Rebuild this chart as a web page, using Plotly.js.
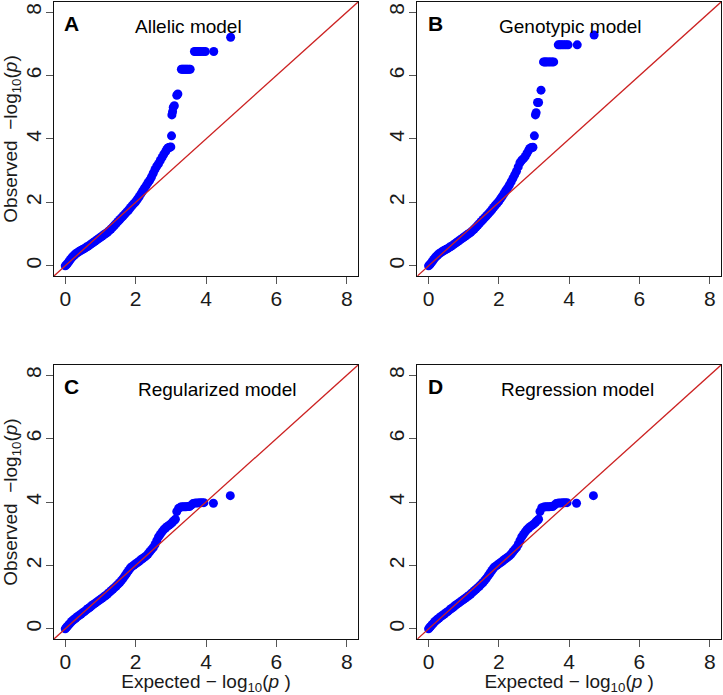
<!DOCTYPE html>
<html>
<head>
<meta charset="utf-8">
<script src="https://cdn.plot.ly/plotly-3.0.1.min.js"></script>
<style>html,body{margin:0;padding:0;background:#fff;}</style>
</head>
<body>
<div id="chart" style="width:723px;height:695px;"></div>
<script>
// ---- data ----
const panelLetters = ["A", "B", "C", "D"];
const panelTitles = ["Allelic model", "Genotypic model", "Regularized model", "Regression model"];
const tickValues = [0, 2, 4, 6, 8];
const axisRange = [-0.32, 8.32];

// Panel A: Allelic model
const expectedA = [0,0.03,0.06,0.1,0.14,0.18,0.22,0.26,0.3,0.35,0.4,0.45,0.5,0.55,0.6,0.65,0.7,0.75,0.8,0.85,0.9,0.95,1.0,1.05,1.1,1.15,1.2,1.25,1.3,1.35,1.4,1.45,1.5,1.55,1.6,1.65,1.7,1.75,1.8,1.85,1.9,1.95,2.0,2.05,2.1,2.15,2.2,2.25,2.3,2.35,2.4,2.45,2.5,2.55,2.6,2.65,2.7,2.75,2.8,2.85,2.88,2.91,2.94,2.97,3.0,3.02,3.03,3.05,3.07,3.10,3.17,3.20,3.30,3.33,3.36,3.39,3.42,3.45,3.48,3.52,3.55,3.67,3.71,3.75,3.80,3.85,3.92,3.98,4.22,4.70];
const observedA = [0,0.03,0.07,0.13,0.19,0.25,0.30,0.34,0.38,0.42,0.46,0.49,0.52,0.55,0.59,0.62,0.66,0.70,0.74,0.78,0.82,0.86,0.90,0.94,0.98,1.02,1.06,1.11,1.16,1.22,1.28,1.34,1.40,1.46,1.52,1.58,1.64,1.70,1.76,1.83,1.90,1.96,2.02,2.10,2.18,2.27,2.36,2.45,2.53,2.62,2.70,2.80,2.92,3.04,3.14,3.22,3.32,3.42,3.52,3.60,3.66,3.71,3.73,3.74,3.75,4.10,4.76,4.86,5.00,5.05,5.38,5.42,6.20,6.20,6.20,6.20,6.20,6.20,6.20,6.20,6.20,6.76,6.76,6.76,6.76,6.76,6.76,6.76,6.76,7.21];

// Panel B: Genotypic model
const expectedB = [0,0.03,0.06,0.1,0.14,0.18,0.22,0.26,0.3,0.35,0.4,0.45,0.5,0.55,0.6,0.65,0.7,0.75,0.8,0.85,0.9,0.95,1.0,1.05,1.1,1.15,1.2,1.25,1.3,1.35,1.4,1.45,1.5,1.55,1.6,1.65,1.7,1.75,1.8,1.85,1.9,1.95,2.0,2.05,2.1,2.15,2.2,2.25,2.3,2.35,2.4,2.45,2.5,2.55,2.6,2.65,2.7,2.75,2.8,2.85,2.88,2.91,2.94,2.97,3.01,3.04,3.06,3.10,3.13,3.20,3.27,3.30,3.33,3.36,3.40,3.44,3.48,3.52,3.56,3.69,3.73,3.77,3.82,3.87,3.92,3.97,4.23,4.71];
const observedB = [0,0.03,0.07,0.13,0.19,0.25,0.30,0.34,0.38,0.42,0.46,0.49,0.52,0.55,0.59,0.62,0.66,0.70,0.74,0.78,0.82,0.86,0.90,0.94,0.98,1.02,1.06,1.11,1.16,1.22,1.28,1.34,1.40,1.46,1.52,1.58,1.64,1.70,1.77,1.84,1.91,1.97,2.04,2.12,2.20,2.29,2.38,2.46,2.55,2.65,2.76,2.87,2.98,3.12,3.25,3.33,3.38,3.45,3.55,3.65,3.70,3.72,3.73,3.74,4.10,4.76,4.83,5.15,5.15,5.54,6.43,6.43,6.43,6.43,6.43,6.43,6.43,6.43,6.43,6.97,6.97,6.97,6.97,6.97,6.97,6.97,6.97,7.28];

// Panel C: Regularized model
const expectedC = [0,0.03,0.06,0.1,0.14,0.18,0.22,0.26,0.3,0.35,0.4,0.45,0.5,0.55,0.6,0.65,0.7,0.75,0.8,0.85,0.9,0.95,1.0,1.05,1.1,1.15,1.2,1.25,1.3,1.35,1.4,1.45,1.5,1.55,1.6,1.65,1.7,1.75,1.8,1.85,1.9,1.95,2.0,2.05,2.1,2.15,2.2,2.25,2.3,2.35,2.4,2.45,2.5,2.55,2.6,2.65,2.7,2.75,2.8,2.85,2.9,2.95,3.0,3.05,3.1,3.13,3.17,3.22,3.28,3.33,3.38,3.43,3.48,3.53,3.58,3.63,3.70,3.76,3.82,3.88,3.94,4.21,4.69];
const observedC = [0,0.04,0.08,0.13,0.18,0.23,0.27,0.31,0.34,0.39,0.43,0.47,0.51,0.55,0.60,0.64,0.68,0.73,0.77,0.81,0.85,0.89,0.93,0.97,1.01,1.05,1.10,1.15,1.20,1.25,1.30,1.35,1.41,1.46,1.53,1.60,1.68,1.76,1.84,1.92,1.97,2.01,2.05,2.09,2.13,2.18,2.22,2.26,2.30,2.36,2.43,2.50,2.56,2.66,2.78,2.90,2.98,3.06,3.13,3.18,3.23,3.27,3.31,3.37,3.42,3.46,3.70,3.80,3.84,3.85,3.85,3.85,3.86,3.86,3.90,3.95,3.97,3.97,3.98,3.98,3.98,3.96,4.20];

// Panel D: Regression model
const expectedD = [0,0.03,0.06,0.1,0.14,0.18,0.22,0.26,0.3,0.35,0.4,0.45,0.5,0.55,0.6,0.65,0.7,0.75,0.8,0.85,0.9,0.95,1.0,1.05,1.1,1.15,1.2,1.25,1.3,1.35,1.4,1.45,1.5,1.55,1.6,1.65,1.7,1.75,1.8,1.85,1.9,1.95,2.0,2.05,2.1,2.15,2.2,2.25,2.3,2.35,2.4,2.45,2.5,2.55,2.6,2.65,2.7,2.75,2.8,2.85,2.9,2.95,3.0,3.05,3.1,3.13,3.17,3.22,3.28,3.33,3.38,3.43,3.48,3.53,3.58,3.63,3.70,3.76,3.82,3.88,3.94,4.21,4.69];
const observedD = [0,0.04,0.08,0.13,0.18,0.23,0.27,0.31,0.34,0.39,0.43,0.47,0.51,0.55,0.60,0.64,0.68,0.73,0.77,0.81,0.85,0.89,0.93,0.97,1.01,1.05,1.10,1.15,1.20,1.25,1.30,1.35,1.41,1.46,1.53,1.60,1.68,1.76,1.84,1.92,1.97,2.01,2.05,2.09,2.13,2.18,2.22,2.26,2.30,2.36,2.43,2.50,2.56,2.66,2.78,2.90,2.98,3.06,3.13,3.18,3.23,3.27,3.31,3.37,3.42,3.46,3.70,3.82,3.84,3.85,3.85,3.85,3.86,3.86,3.90,3.95,3.97,3.97,3.98,3.98,3.98,3.96,4.20];

const expectedAll = [expectedA, expectedB, expectedC, expectedD];
const observedAll = [observedA, observedB, observedC, observedD];

// ---- build ----
const FONT = "Liberation Sans, Arial, Helvetica, sans-serif";
const suffix = ["", "2", "3", "4"];
const traces = [];
for (let i = 0; i < 4; i++) {
  traces.push({
    type: "scatter", mode: "markers",
    x: expectedAll[i], y: observedAll[i],
    xaxis: "x" + suffix[i], yaxis: "y" + suffix[i],
    marker: {color: "#0000FF", size: 9, line: {width: 0}},
    hoverinfo: "skip", showlegend: false
  });
}
for (let i = 0; i < 4; i++) {
  traces.push({
    type: "scatter", mode: "lines",
    x: axisRange, y: axisRange,
    xaxis: "x" + suffix[i], yaxis: "y" + suffix[i],
    line: {color: "#CC2222", width: 1.3},
    hoverinfo: "skip", showlegend: false
  });
}

const xDomains = [[0, 0.4558], [0.5447, 1], [0, 0.4558], [0.5447, 1]];
const yDomains = [[0.5699, 1], [0.5699, 1], [0, 0.4301], [0, 0.4301]];
const yTitle = "Observed  \u2212log<sub>10</sub>(<i>p</i>)";
const xTitle = "Expected \u2212 log<sub>10</sub>(<i>p</i> )";

const layout = {
  width: 723, height: 695,
  margin: {l: 54, r: 2, t: 2, b: 56},
  paper_bgcolor: "#ffffff", plot_bgcolor: "#ffffff",
  showlegend: false,
  font: {family: FONT, size: 19, color: "#1a1a1a"},
  annotations: []
};

function axisBase() {
  return {
    range: axisRange.slice(), autorange: false,
    tickvals: tickValues, ticktext: tickValues.map(String),
    ticks: "outside", ticklen: 7, tickwidth: 1, tickcolor: "#555",
    ticklabelstandoff: -3,
    showline: true, mirror: true, linecolor: "#111", linewidth: 1,
    showgrid: false, zeroline: false,
    tickfont: {family: FONT, size: 21, color: "#1a1a1a"},
    fixedrange: true
  };
}

for (let i = 0; i < 4; i++) {
  const xa = axisBase();
  xa.domain = xDomains[i];
  xa.anchor = "y" + suffix[i];
  if (i >= 2) xa.title = {text: xTitle, font: {family: FONT, size: 19, color: "#1a1a1a"}, standoff: 2};
  const ya = axisBase();
  ya.domain = yDomains[i];
  ya.anchor = "x" + suffix[i];
  ya.tickangle = -90;
  if (i % 2 === 0) ya.title = {text: yTitle, font: {family: FONT, size: 19, color: "#1a1a1a"}, standoff: 2};
  layout["xaxis" + suffix[i]] = xa;
  layout["yaxis" + suffix[i]] = ya;

  layout.annotations.push({
    xref: "x" + suffix[i] + " domain", yref: "y" + suffix[i] + " domain",
    x: 0.059, y: 0.923, xanchor: "center", yanchor: "middle",
    text: "<b>" + panelLetters[i] + "</b>", showarrow: false,
    font: {family: FONT, size: 21, color: "#000"}
  });
}
const titleX = [0.444, 0.506, 0.536, 0.527];
for (let i = 0; i < 4; i++) {
  layout.annotations.push({
    xref: "x" + suffix[i] + " domain", yref: "y" + suffix[i] + " domain",
    x: titleX[i], y: 0.909, xanchor: "center", yanchor: "middle",
    text: panelTitles[i], showarrow: false,
    font: {family: FONT, size: 19, color: "#000"}
  });
}

Plotly.newPlot("chart", traces, layout, {staticPlot: true, displayModeBar: false});
</script>
</body>
</html>
